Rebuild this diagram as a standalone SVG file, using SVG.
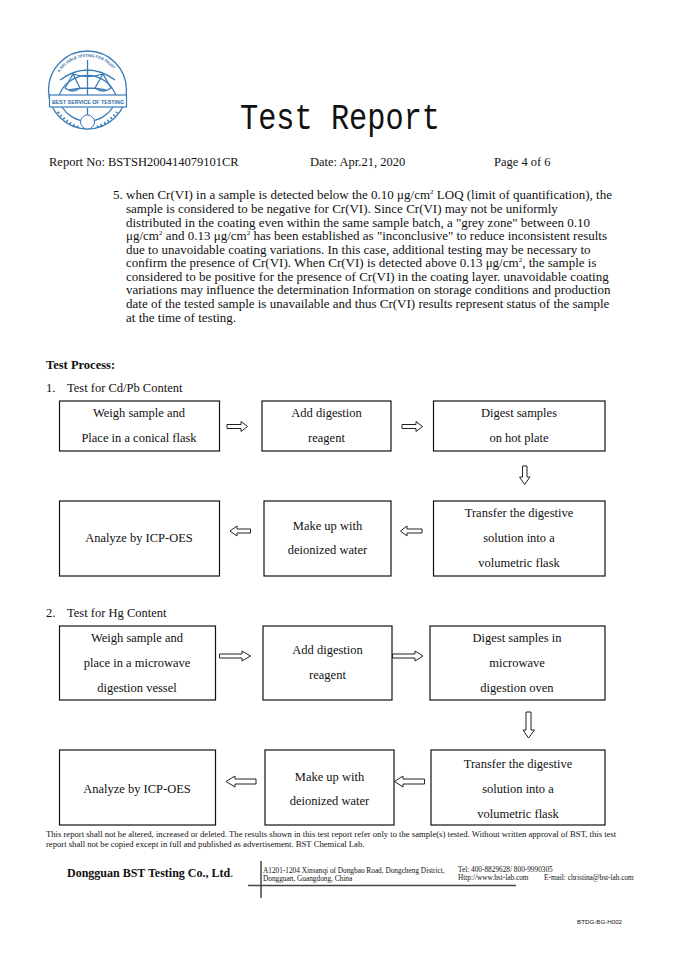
<svg xmlns="http://www.w3.org/2000/svg" width="673" height="955" viewBox="0 0 673 955">
<style>
text{font-family:"Liberation Serif","Times New Roman",serif;fill:#111}
.p{font-size:13px}
.s{font-size:12.5px}
.b{font-size:12.5px;text-anchor:middle}
.box{fill:#fff;stroke:#111;stroke-width:1.2}
.ar{fill:#fff;stroke:#222;stroke-width:1}
.l{fill:none;stroke:#3a7cb8;stroke-width:1.3}
.f{font-size:8.63px}
.a{font-size:7.3px}
</style>
<rect width="673" height="955" fill="#fff"/>
<g id="logo">
<circle class="l" cx="87.500" cy="90" r="39"/>
<path class="l" d="M59 96A30 30 0 0 1 116 96M62 107A30 30 0 0 0 113 107"/>
<path class="l" d="M60 80Q87.500 60 115 80M87.500 60V95M87.500 115V108M69 90Q87.500 86 106 90"/>
<path class="l" d="M73 74L65 88Q72.500 94 80 88ZM103 74L95 88Q103 94 111 88ZM73 74Q87.500 79 103 74"/>
<rect x="49.500" y="95" width="77" height="12" fill="#fff" stroke="#3a7cb8" stroke-width="1.2"/>
<path d="M58 112Q66 122 78 127M97 127Q109 122 117 112" fill="none" stroke="#3a7cb8" stroke-width="2.500" stroke-dasharray="1.500 2.500"/>
<circle cx="87.500" cy="122" r="7" fill="#fff" stroke="#3a7cb8" stroke-width="1"/>
<text x="88" y="103.500" text-anchor="middle" textLength="72" lengthAdjust="spacingAndGlyphs" style="font-family:'Liberation Sans',sans-serif;font-size:6.100px;font-weight:bold;fill:#2a6aa5">BEST SERVICE OF TESTING</text>
<path id="arc" d="M58 75A33 33 0 0 1 117 75" fill="none"/>
<text style="font-family:'Liberation Sans',sans-serif;font-size:3.800px;font-weight:bold;fill:#2a6aa5"><textPath href="#arc" startOffset="4%">A RELIABLE TESTING FOR TRUST</textPath></text>
</g>
<g id="header">
<text x="240" y="128.500" textLength="200" lengthAdjust="spacingAndGlyphs" style="font-family:'Liberation Mono','DejaVu Sans Mono',monospace;font-size:37px">Test Report</text>
<text x="49" y="165.500" class="s">Report No: BSTSH200414079101CR</text>
<text x="310" y="165.500" class="s">Date: Apr.21, 2020</text>
<text x="494" y="165.500" class="s">Page 4 of 6</text>
</g>
<g id="note">
<text class="p" x="113" y="199">5. when Cr(VI) in a sample is detected below the 0.10 μg/cm<tspan font-size="7" dy="-5">2</tspan><tspan dy="5"> LOQ (limit of quantification), the</tspan></text>
<text class="p" x="126" y="213">sample is considered to be negative for Cr(VI). Since Cr(VI) may not be uniformly</text>
<text class="p" x="126" y="227">distributed in the coating even within the same sample batch, a "grey zone" between 0.10</text>
<text class="p" x="126" y="240">μg/cm<tspan font-size="7" dy="-5">2</tspan><tspan dy="5"> and 0.13 μg/cm</tspan><tspan font-size="7" dy="-5">2</tspan><tspan dy="5"> has been established as "inconclusive" to reduce inconsistent results</tspan></text>
<text class="p" x="126" y="254">due to unavoidable coating variations. In this case, additional testing may be necessary to</text>
<text class="p" x="126" y="267">confirm the presence of Cr(VI). When Cr(VI) is detected above 0.13 μg/cm<tspan font-size="7" dy="-5">2</tspan><tspan dy="5">, the sample is</tspan></text>
<text class="p" x="126" y="281">considered to be positive for the presence of Cr(VI) in the coating layer. unavoidable coating</text>
<text class="p" x="126" y="294">variations may influence the determination Information on storage conditions and production</text>
<text class="p" x="126" y="308">date of the tested sample is unavailable and thus Cr(VI) results represent status of the sample</text>
<text class="p" x="126" y="322">at the time of testing.</text>
</g>
<g id="headings">
<text x="46" y="369" class="s" font-weight="bold">Test Process:</text>
<text x="46" y="392" class="s">1.</text>
<text x="67" y="392" class="s">Test for Cd/Pb Content</text>
<text x="46" y="617" class="s">2.</text>
<text x="67" y="617" class="s">Test for Hg Content</text>
</g>
<g id="connectors">
<polygon class="ar" points="227,424.500 241,424.500 241,421.500 247.500,426.500 241,431.500 241,428.500 227,428.500"/>
<polygon class="ar" points="402,424.500 416,424.500 416,421.500 422.500,426.500 416,431.500 416,428.500 402,428.500"/>
<polygon class="ar" points="522.500,466 527,466 527,477 530,477 524.700,484.500 519.500,477 522.500,477"/>
<polygon class="ar" points="422,529 407,529 407,526 400.500,531 407,536 407,533 422,533"/>
<polygon class="ar" points="250.500,529 237,529 237,526 230,531 237,536 237,533 250.500,533"/>
<polygon class="ar" points="219.500,654 242,654 242,651 250.500,656 242,661 242,658 219.500,658"/>
<polygon class="ar" points="392.500,654 415,654 415,651 423,656 415,661 415,658 392.500,658"/>
<polygon class="ar" points="526,712 531,712 531,730 534.500,730 528.500,738 523,730 526,730"/>
<polygon class="ar" points="424.500,779 403,779 403,776 394.500,781.500 403,787 403,784 424.500,784"/>
<polygon class="ar" points="256,779 235,779 235,776 226,781.500 235,787 235,784 256,784"/>
</g>
<g id="n1"><rect class="box" x="59.500" y="401" width="160" height="50"/><text class="b" x="139" y="417">Weigh sample and</text><text class="b" x="139" y="442">Place in a conical flask</text></g>
<g id="n2"><rect class="box" x="262" y="401" width="129" height="50"/><text class="b" x="326.500" y="417">Add digestion</text><text class="b" x="326.500" y="442">reagent</text></g>
<g id="n3"><rect class="box" x="433.500" y="401" width="171.500" height="50"/><text class="b" x="519" y="417">Digest samples</text><text class="b" x="519" y="442">on hot plate</text></g>
<g id="n4"><rect class="box" x="433.500" y="501" width="171.500" height="75"/><text class="b" x="519" y="517">Transfer the digestive</text><text class="b" x="519" y="542">solution into a</text><text class="b" x="519" y="567">volumetric flask</text></g>
<g id="n5"><rect class="box" x="264" y="501" width="127" height="75"/><text class="b" x="327.500" y="530">Make up with</text><text class="b" x="327.500" y="554">deionized water</text></g>
<g id="n6"><rect class="box" x="59.500" y="501" width="160" height="75"/><text class="b" x="139" y="542">Analyze by ICP-OES</text></g>
<g id="n7"><rect class="box" x="59.500" y="626" width="156" height="74"/><text class="b" x="137" y="642">Weigh sample and</text><text class="b" x="137" y="667">place in a microwave</text><text class="b" x="137" y="692">digestion vessel</text></g>
<g id="n8"><rect class="box" x="263" y="626" width="129" height="74"/><text class="b" x="327.500" y="654">Add digestion</text><text class="b" x="327.500" y="679">reagent</text></g>
<g id="n9"><rect class="box" x="430" y="626" width="175" height="74"/><text class="b" x="517" y="642">Digest samples in</text><text class="b" x="517" y="667">microwave</text><text class="b" x="517" y="692">digestion oven</text></g>
<g id="n10"><rect class="box" x="431" y="750" width="174" height="75"/><text class="b" x="518" y="768">Transfer the digestive</text><text class="b" x="518" y="793">solution into a</text><text class="b" x="518" y="818">volumetric flask</text></g>
<g id="n11"><rect class="box" x="265" y="750" width="129" height="75"/><text class="b" x="329.500" y="781">Make up with</text><text class="b" x="329.500" y="805">deionized water</text></g>
<g id="n12"><rect class="box" x="59.500" y="750" width="156" height="75"/><text class="b" x="137" y="793">Analyze by ICP-OES</text></g>
<g id="footer">
<text class="f" x="46" y="837">This report shall not be altered, increased or deleted. The results shown in this test report refer only to the sample(s) tested. Without written approval of BST, this test</text>
<text class="f" x="46" y="847">report shall not be copied except in full and published as advertisement. BST Chemical Lab.</text>
<text x="67" y="877" font-size="12px" font-weight="bold">Dongguan BST Testing Co., Ltd<tspan font-weight="normal">.</tspan></text>
<path d="M261 861V898M248 885.500H516" stroke="#444" stroke-width="1.500" fill="none"/>
<text class="a" x="263" y="873">A1201-1204 Xinsanqi of Dongbao Road, Dongcheng District,</text>
<text class="a" x="263" y="881">Dongguan, Guangdong, China</text>
<text class="a" x="458" y="872">Tel: 400-8829628/ 800-9990305</text>
<text class="a" x="458" y="880">Http://www.bst-lab.com</text>
<text class="a" x="544" y="880">E-mail: christina@bst-lab.com</text>
<text x="577" y="924" style="font-family:'Liberation Sans',sans-serif;font-size:6.200px">BTDG-BG-H002</text>
</g>
</svg>
